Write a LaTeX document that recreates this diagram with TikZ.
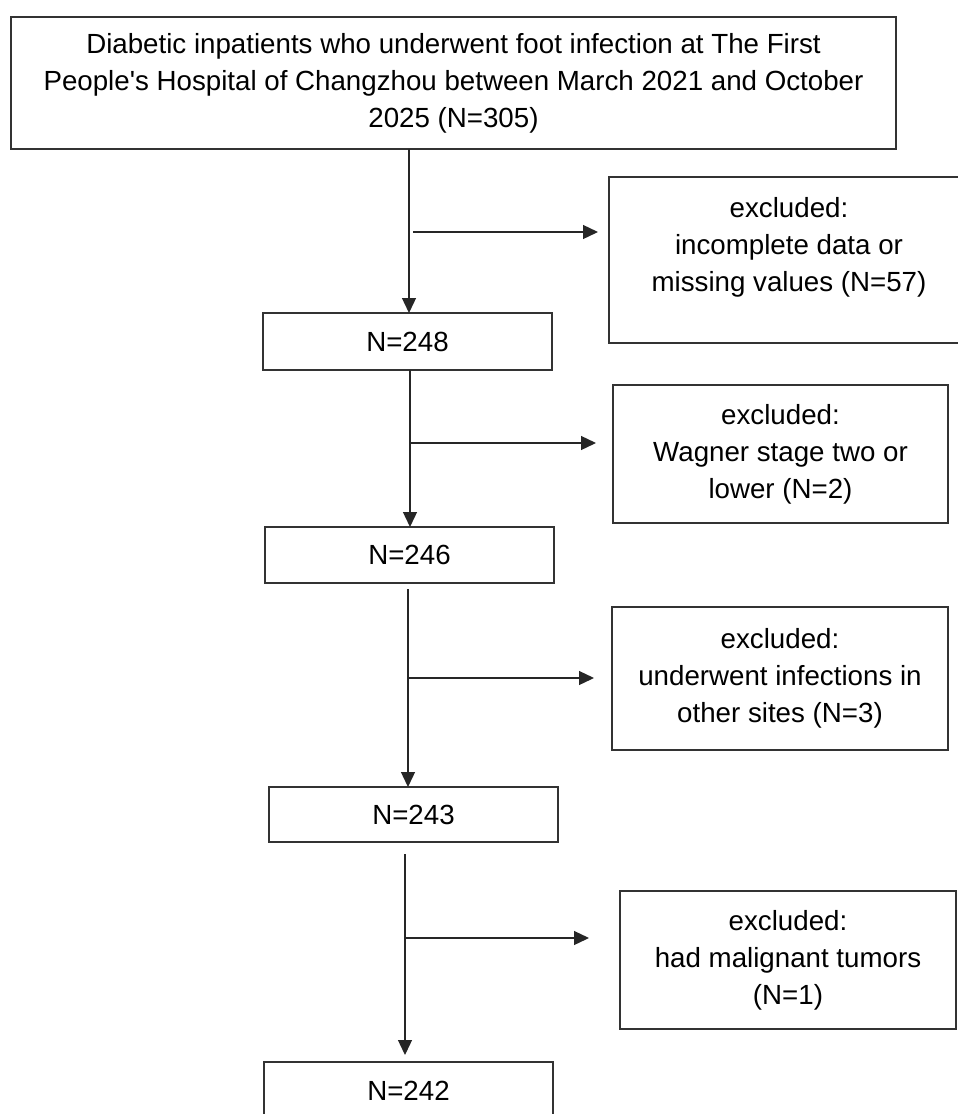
\documentclass[tikz,border=0pt]{standalone}
\usepackage{fontspec}
\setmainfont{Liberation Sans}
\usetikzlibrary{arrows.meta,calc}
\begin{document}
\begin{tikzpicture}[x=1pt,y=-1pt,
  every node/.style={font=\fontsize{27.7}{37}\selectfont, text=black},
  box/.style={draw=black!80, line width=1.3pt, inner sep=0pt, outer sep=0pt, align=center},
  arr/.style={draw=black!85, line width=1.3pt, -{Triangle[length=15pt,width=14pt]}},
  ln/.style={draw=black!85, line width=1.3pt}
]
\useasboundingbox (0,0) rectangle (958,1114);

% main boxes
\node[box, minimum width=885, minimum height=132] (top) at (453.5,83)
  {Diabetic inpatients who underwent foot infection at The First\\People\textquotesingle s Hospital of Changzhou between March 2021 and October\\2025 (N=305)};
\node[box, minimum width=289, minimum height=57] (n248) at (407.5,341.5) {N=248};
\node[box, minimum width=289, minimum height=56] (n246) at (409.5,555) {N=246};
\node[box, minimum width=289, minimum height=55] (n243) at (413.5,814.5) {N=243};
\node[box, minimum width=289, minimum height=58] (n242) at (408.5,1091) {N=242};

% exclusion boxes
\node[box, minimum width=353, minimum height=166] (ex1) at (785.5,260) {};
\node[align=center] (ex1t) at (789,247) {excluded:\\incomplete data or\\missing values (N=57)};
\node[box, minimum width=335, minimum height=138] (ex2) at (780.5,454)
  {excluded:\\Wagner stage two or\\lower (N=2)};
\node[box, minimum width=336, minimum height=143] (ex3) at (780,678.5)
  {excluded:\\underwent infections in\\other sites (N=3)};
\node[box, minimum width=336, minimum height=138] (ex4) at (788,960)
  {excluded:\\had malignant tumors\\(N=1)};

% vertical flow
\coordinate (v1) at (409,0);
\coordinate (v2) at (410,0);
\coordinate (v3) at (408,0);
\coordinate (v4) at (405,0);
\draw[arr] (top.south -| v1) -- (n248.north -| v1);
\draw[arr] (n248.south -| v2) -- (n246.north -| v2);
\coordinate (s3) at (408,589);
\draw[arr] (s3) -- (n243.north -| v3);
\coordinate (s4) at (405,854);
\coordinate (e4) at (405,1055);
\draw[arr] (s4) -- (e4);

% branches
\coordinate (b1s) at (413,232);
\coordinate (b1e) at (598,232);
\draw[arr] (b1s) -- (b1e);
\coordinate (b2s) at (410,443);
\coordinate (b2e) at (596,443);
\draw[arr] (b2s) -- (b2e);
\coordinate (b3s) at (409,678);
\coordinate (b3e) at (594,678);
\draw[arr] (b3s) -- (b3e);
\coordinate (b4s) at (404,938);
\coordinate (b4e) at (589,938);
\draw[arr] (b4s) -- (b4e);
\end{tikzpicture}
\end{document}
